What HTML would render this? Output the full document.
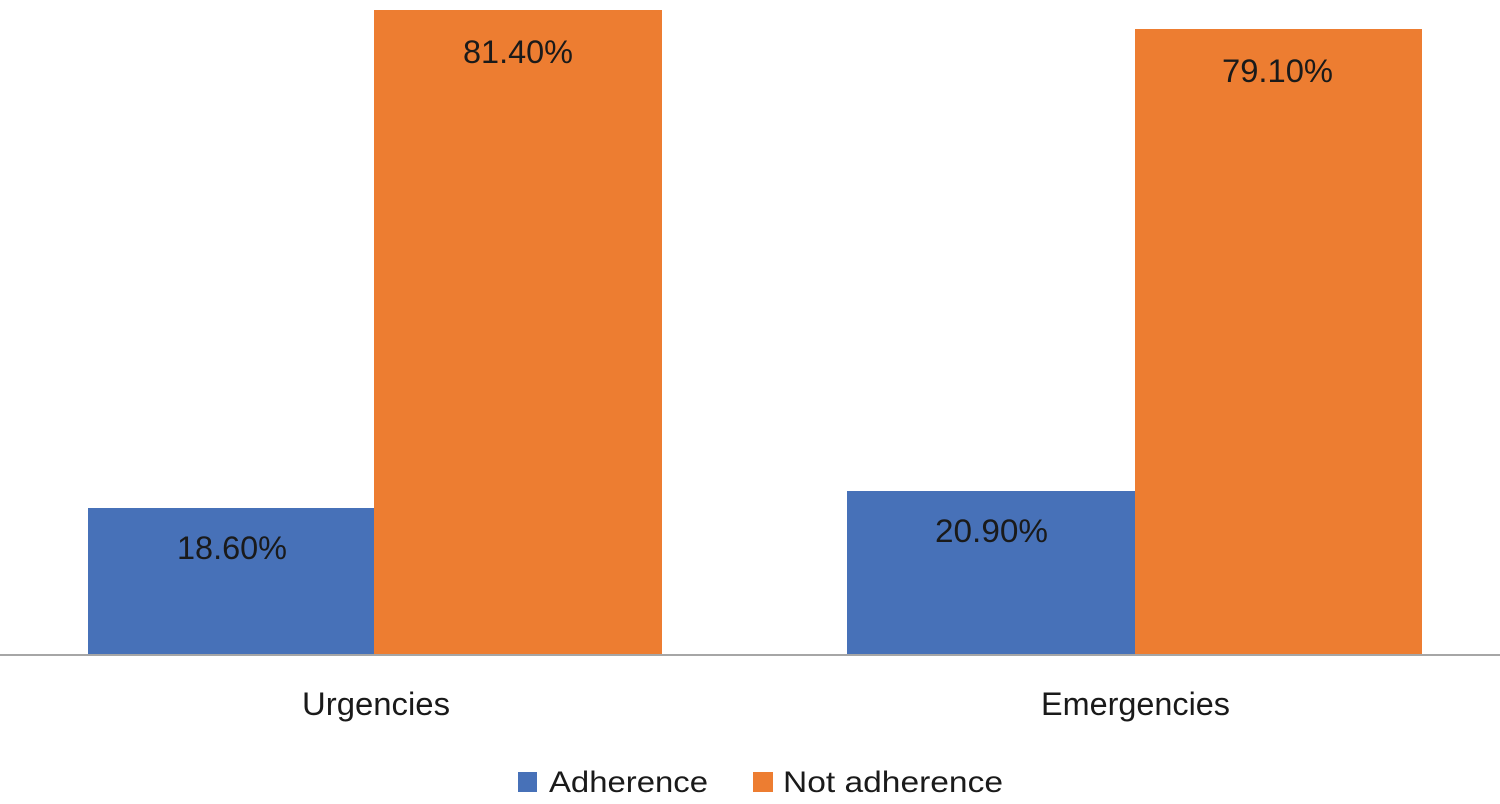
<!DOCTYPE html>
<html>
<head>
<meta charset="utf-8">
<style>
  html, body { margin: 0; padding: 0; background: #ffffff; }
  svg { display: block; }
  text { font-family: "Liberation Sans", "DejaVu Sans", sans-serif; fill: #1a1a1a; }
</style>
</head>
<body>
<svg width="1500" height="804" viewBox="0 0 1500 804" xmlns="http://www.w3.org/2000/svg">
  <rect x="0" y="0" width="1500" height="804" fill="#ffffff"/>

  <!-- Bars -->
  <rect x="88" y="508" width="286" height="147" fill="#4771B8"/>
  <rect x="374" y="10" width="288" height="645" fill="#ED7D31"/>
  <rect x="847" y="491" width="288" height="164" fill="#4771B8"/>
  <rect x="1135" y="29" width="287" height="626" fill="#ED7D31"/>

  <!-- Axis line -->
  <rect x="0" y="654" width="1500" height="2" fill="#a6a6a6"/>

  <!-- Data labels -->
  <text x="177" y="559" font-size="32" textLength="110" lengthAdjust="spacingAndGlyphs">18.60%</text>
  <text x="463" y="63" font-size="32" textLength="110" lengthAdjust="spacingAndGlyphs">81.40%</text>
  <text x="935" y="542" font-size="32" textLength="113" lengthAdjust="spacingAndGlyphs">20.90%</text>
  <text x="1222" y="82" font-size="32" textLength="111" lengthAdjust="spacingAndGlyphs">79.10%</text>

  <!-- Category labels -->
  <text x="302" y="715" font-size="32" textLength="148" lengthAdjust="spacingAndGlyphs">Urgencies</text>
  <text x="1041" y="715" font-size="32" textLength="189" lengthAdjust="spacingAndGlyphs">Emergencies</text>

  <!-- Legend -->
  <rect x="518" y="772" width="19" height="20" fill="#4771B8"/>
  <text x="549" y="792" font-size="30" textLength="159" lengthAdjust="spacingAndGlyphs">Adherence</text>
  <rect x="753" y="772" width="20" height="20" fill="#ED7D31"/>
  <text x="783" y="792" font-size="30" textLength="220" lengthAdjust="spacingAndGlyphs">Not adherence</text>
</svg>
</body>
</html>
